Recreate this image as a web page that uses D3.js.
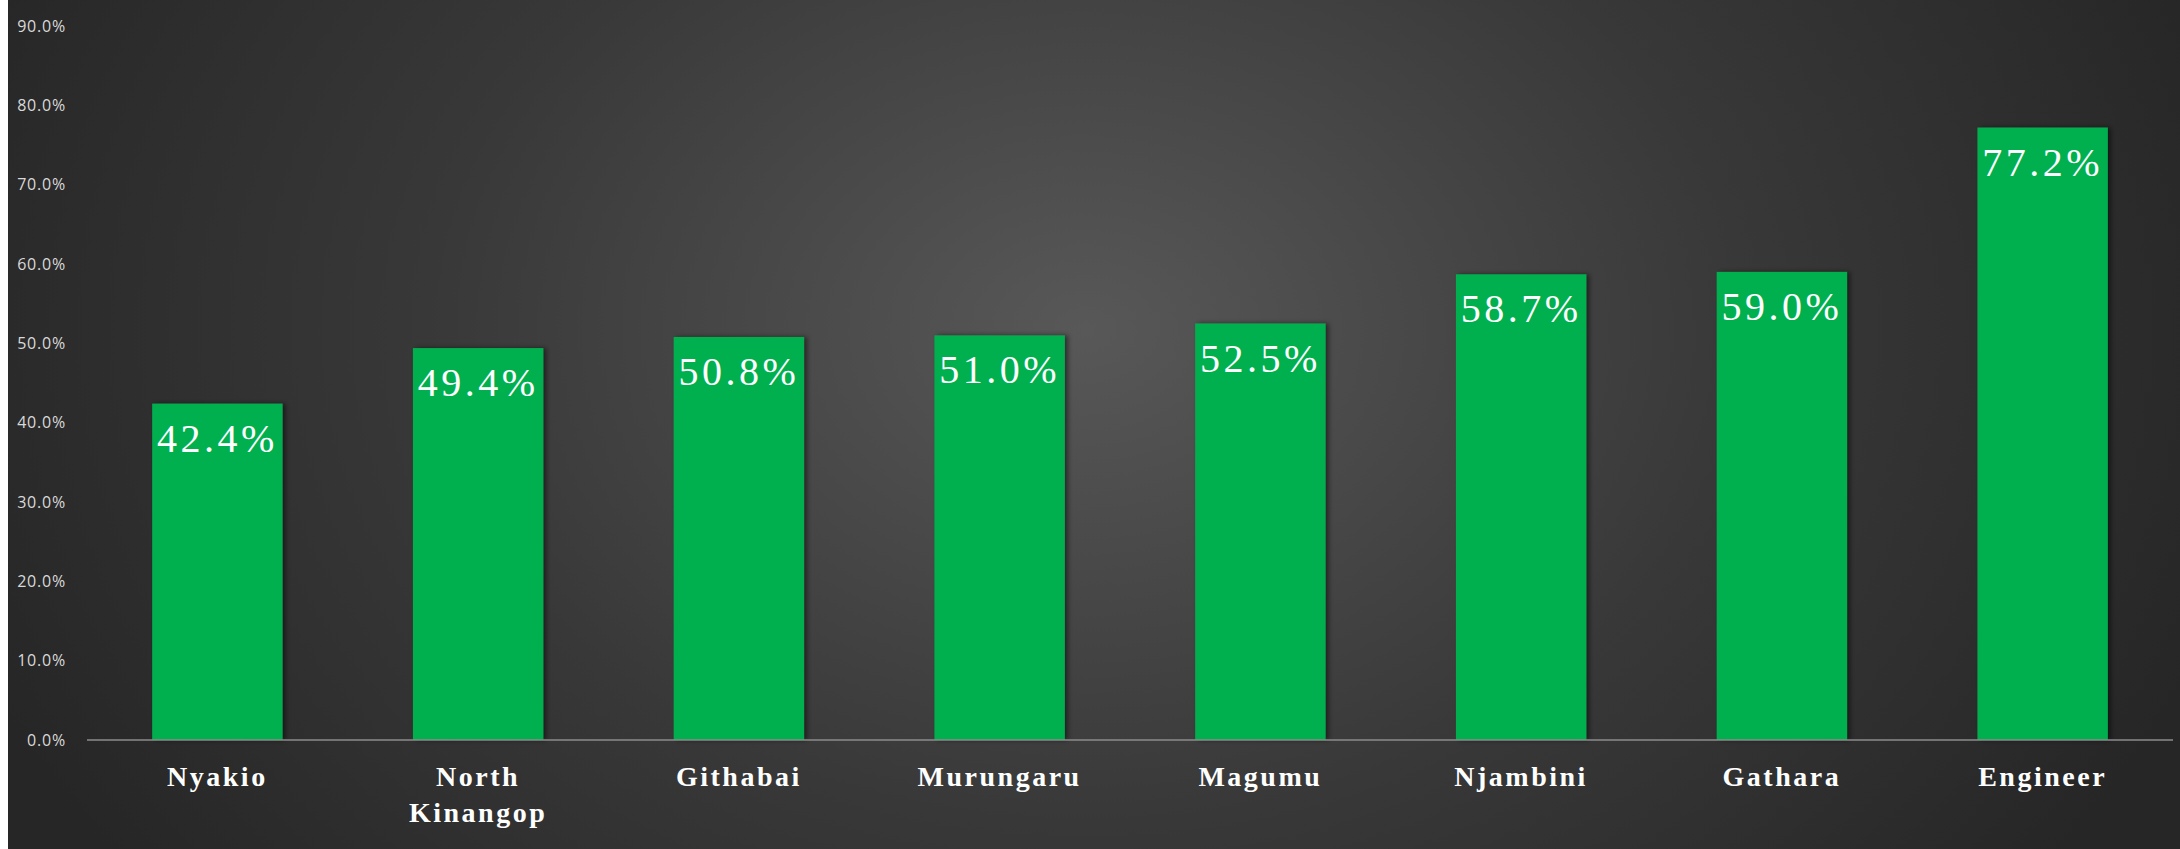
<!DOCTYPE html>
<html>
<head>
<meta charset="utf-8">
<script src="https://cdn.jsdelivr.net/npm/d3@7"></script>
<style>
  html, body { margin: 0; padding: 0; background: #fff; }
  svg { display: block; }
</style>
</head>
<body>
<svg id="chart" width="2180" height="849"></svg>
<script>
// data
var categories = ["Nyakio", "North Kinangop", "Githabai", "Murungaru", "Magumu", "Njambini", "Gathara", "Engineer"];
var values = [0.424, 0.494, 0.508, 0.510, 0.525, 0.587, 0.590, 0.772];
var yTicks = [0, 0.1, 0.2, 0.3, 0.4, 0.5, 0.6, 0.7, 0.8, 0.9];

var svg = d3.select("#chart"),
  width = +svg.attr("width"),
  height = +svg.attr("height");

var plot = { left: 87, right: 2173, top: 26, bottom: 740 };

// background with soft radial light
var defs = svg.append("defs");
var grad = defs.append("radialGradient")
  .attr("id", "bg")
  .attr("gradientUnits", "userSpaceOnUse")
  .attr("cx", 1085).attr("cy", 330).attr("r", 1200)
  .attr("gradientTransform", "translate(1085,330) scale(1,0.75) translate(-1085,-330)");
grad.append("stop").attr("offset", "0%").attr("stop-color", "#585858");
grad.append("stop").attr("offset", "55%").attr("stop-color", "#383838");
grad.append("stop").attr("offset", "100%").attr("stop-color", "#262626");

var shadow = defs.append("filter").attr("id", "shadow")
  .attr("x", "-10%").attr("y", "-10%").attr("width", "130%").attr("height", "120%");
shadow.append("feDropShadow")
  .attr("dx", 3).attr("dy", 0).attr("stdDeviation", 2.5)
  .attr("flood-color", "#000").attr("flood-opacity", 0.5);

svg.append("rect")
  .attr("x", 8).attr("y", 0)
  .attr("width", width - 8).attr("height", height)
  .attr("fill", "url(#bg)");

var x = d3.scaleBand().domain(categories).range([plot.left, plot.right]).paddingInner(0.5).paddingOuter(0.25);
var y = d3.scaleLinear().domain([0, 0.9]).range([plot.bottom, plot.top]);

// y axis labels only
var yAxis = svg.append("g")
  .attr("transform", "translate(66,0)")
  .call(d3.axisLeft(y).tickValues(yTicks).tickFormat(d3.format(".1%")).tickSize(0).tickPadding(0));
yAxis.select(".domain").remove();
yAxis.selectAll("text")
  .attr("fill", "#d9d9d9")
  .attr("font-family", "'Open Sans', 'DejaVu Sans', sans-serif")
  .attr("font-size", "16px")
  .attr("letter-spacing", "0.8px");

// bars
svg.selectAll(".bar")
  .data(values)
  .enter()
  .append("rect")
  .attr("class", "bar")
  .attr("x", function (d, i) { return x(categories[i]); })
  .attr("y", function (d) { return y(d); })
  .attr("width", x.bandwidth())
  .attr("height", function (d) { return y(0) - y(d); })
  .attr("fill", "#00b050")
  .attr("filter", "url(#shadow)");

// baseline
svg.append("line")
  .attr("x1", plot.left).attr("x2", plot.right)
  .attr("y1", y(0)).attr("y2", y(0))
  .attr("stroke", "#8c8c8c").attr("stroke-width", 1.5);

// value labels
svg.selectAll(".val")
  .data(values)
  .enter()
  .append("text")
  .attr("class", "val")
  .attr("x", function (d, i) { return x(categories[i]) + x.bandwidth() / 2; })
  .attr("y", function (d) { return y(d) + 48; })
  .attr("text-anchor", "middle")
  .attr("fill", "#ffffff")
  .attr("font-family", "'Liberation Serif', 'DejaVu Serif', serif")
  .attr("font-size", "40px")
  .attr("letter-spacing", "3.5px")
  .text(d3.format(".1%"));

// category labels
svg.selectAll(".cat")
  .data(categories)
  .enter()
  .append("text")
  .attr("class", "cat")
  .attr("x", function (d) { return x(d) + x.bandwidth() / 2; })
  .attr("y", 786)
  .attr("text-anchor", "middle")
  .attr("fill", "#ffffff")
  .attr("font-family", "'Liberation Serif', 'DejaVu Serif', serif")
  .attr("font-weight", "bold")
  .attr("font-size", "28px")
  .attr("letter-spacing", "2.5px")
  .each(function (d) {
    var words = d.split(" ");
    var t = d3.select(this);
    words.forEach(function (w, k) {
      t.append("tspan")
        .attr("x", t.attr("x"))
        .attr("dy", k === 0 ? 0 : 36)
        .text(w);
    });
  });
</script>
</body>
</html>
